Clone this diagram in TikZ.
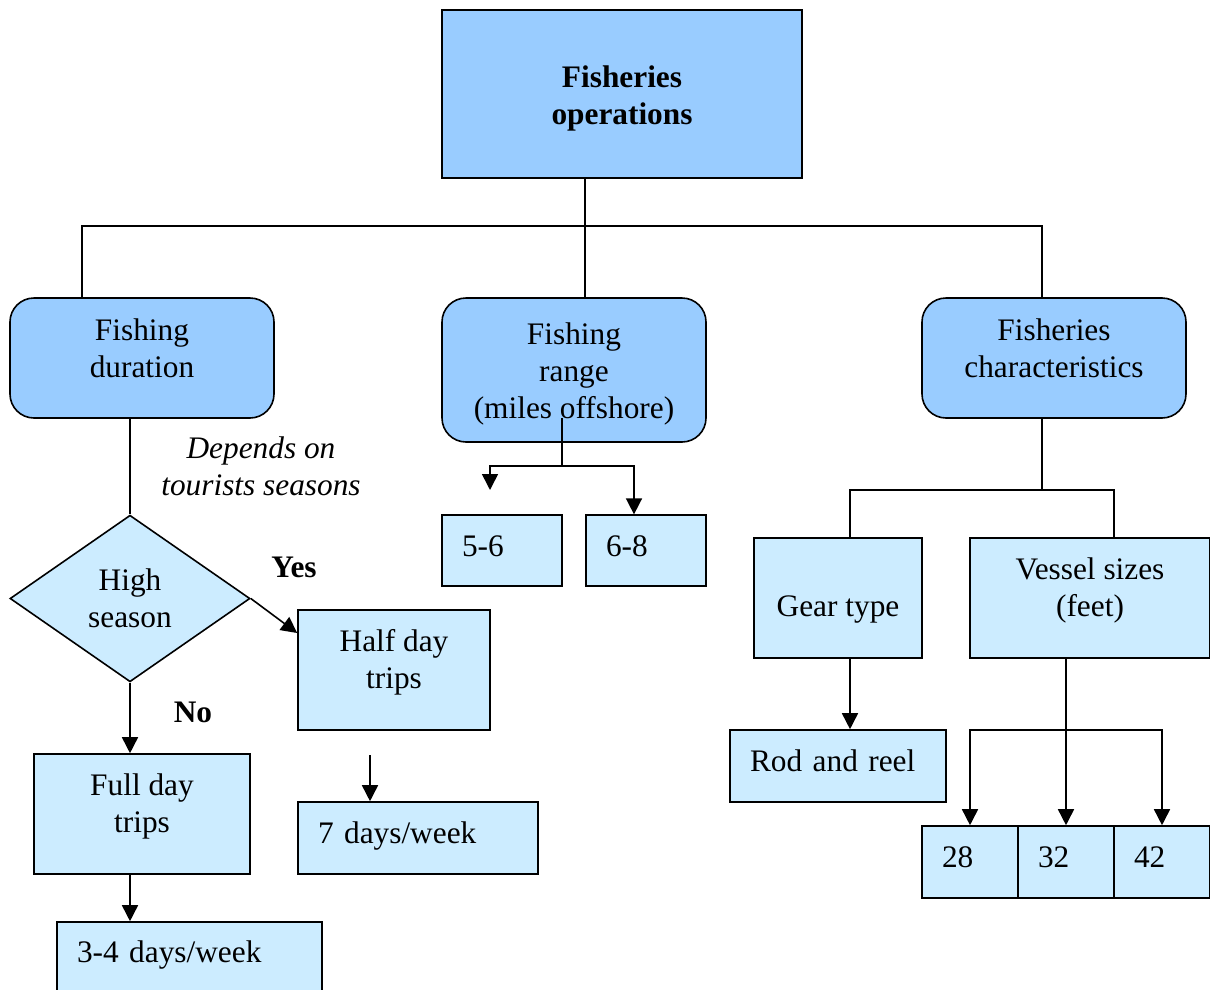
\documentclass[tikz,border=0pt]{standalone}
\usepackage{fontspec}
\setmainfont{Liberation Serif}
\usetikzlibrary{shapes.geometric,arrows.meta}

\definecolor{headblue}{HTML}{99CCFF}
\definecolor{paleblue}{HTML}{CCECFF}
\newcommand{\bodyfont}{\fontsize{23.5}{27.75}\selectfont}

\begin{document}
\begin{tikzpicture}[%
x=0.75pt, y=-0.75pt,
font=\bodyfont,
line width=1.2pt,
box/.style={draw=black, fill=paleblue, inner sep=0pt, align=center},
head/.style={box, fill=headblue, rounded corners=18pt},
tag/.style={box, align=left, inner xsep=15pt, text height=17pt, text depth=8.5pt},
arrow/.style={-{Triangle[width=12pt,length=12pt]}},
]
\useasboundingbox (0,0) rectangle (1210,989);
\clip (0,0) rectangle (1210,989);

%% top level
\node[box, fill=headblue, minimum width=270pt, minimum height=126pt, font=\bodyfont\bfseries,
  text height=50.75pt, text depth=5pt] (ops) at (622,94) {Fisheries\\operations};
\node[head, minimum width=198pt, minimum height=90pt, text height=34.25pt, text depth=5pt] (dur) at (142,358) {Fishing\\duration};
\node[head, minimum width=198pt, minimum height=108pt, text height=77pt, text depth=5pt] (range) at (574,370) {Fishing\\range\\(miles offshore)};
\node[head, minimum width=198pt, minimum height=90pt, text height=34.25pt, text depth=5pt] (chr) at (1054,358) {Fisheries\\characteristics};

%% duration branch
\node[box, diamond, minimum width=180pt, minimum height=125pt] (season) at (130,598.5) {High\\season};
\node[box, minimum width=144pt, minimum height=90pt, text height=32.75pt, text depth=5pt] (half) at (394,670) {Half day\\trips};
\node[tag, text width=150pt, minimum height=54pt] (wk7) at (418,838) {7 days/week};
\node[box, minimum width=162pt, minimum height=90pt, text height=32.75pt, text depth=5pt] (full) at (142,814) {Full day\\trips};
\node[tag, text width=168.75pt, minimum height=72pt, text depth=29pt] (wk34) at (189.5,970) {3-4 days/week};
\node[font=\bodyfont\itshape, align=center] (dep) at (261,466) {Depends on\\tourists seasons};
\node[font=\bodyfont\bfseries] (yes) at (294,567) {Yes};
\node[font=\bodyfont\bfseries] (no) at (193,712) {No};

%% range branch
\node[tag, text width=60pt, minimum height=53pt] (r56) at (502,550.5) {5-6};
\node[tag, text width=60pt, minimum height=53pt] (r68) at (646,550.5) {6-8};

%% characteristics branch
\node[box, minimum width=126pt, minimum height=90pt, text height=33pt, text depth=5.5pt] (gear) at (838,598) {Gear type};
\node[box, minimum width=180pt, minimum height=90pt, text height=32.75pt, text depth=5pt] (vessel) at (1090,598) {Vessel sizes\\(feet)};
\node[tag, text width=132pt, minimum height=54pt] (rod) at (838,766) {Rod and reel};
\foreach \ft/\xc in {28/970,32/1066,42/1162}
  \node[tag, text width=42pt, minimum height=54pt] (f\ft) at (\xc,862) {\ft};

%% tree lines
\coordinate (spL) at (82,226);
\coordinate (spR) at (1042,226);
\draw (ops.south -| 585,0) -- (range.north -| 585,0);
\draw (dur.north -| spL) -- (spL) -- (spR) -- (chr.north -| spR);

\coordinate (rgTop) at (562,418);
\coordinate (rgJ) at (562,466);
\coordinate (r56tip) at (490,490);
\draw (rgTop) -- (rgJ);
\draw[arrow] (rgJ) -| (r56tip);
\draw[arrow] (rgJ) -| (r68.north -| 634,0);

\draw (dur.south -| season) -- (season.north);
\draw[arrow] (season.east) -- (half.west |- 0,633);
\draw[arrow] (season.south) -- (full.north -| season);
\coordinate (halfDrop) at (370,755);
\draw[arrow] (halfDrop) -- (wk7.north -| halfDrop);
\draw[arrow] (full.south -| season) -- (wk34.north -| season);

\coordinate (chJ) at (1042,490);
\draw (chr.south -| chJ) -- (chJ);
\draw (gear.north -| 850,0) |- (chJ) -| (vessel.north -| 1114,0);
\draw[arrow] (gear.south -| 850,0) -- (rod.north -| 850,0);
\coordinate (vsJ) at (1066,730);
\draw[arrow] (vessel.south -| vsJ) -- (f32.north);
\draw[arrow] (vsJ) -| (f28.north);
\draw[arrow] (vsJ) -| (f42.north);
\end{tikzpicture}
\end{document}
